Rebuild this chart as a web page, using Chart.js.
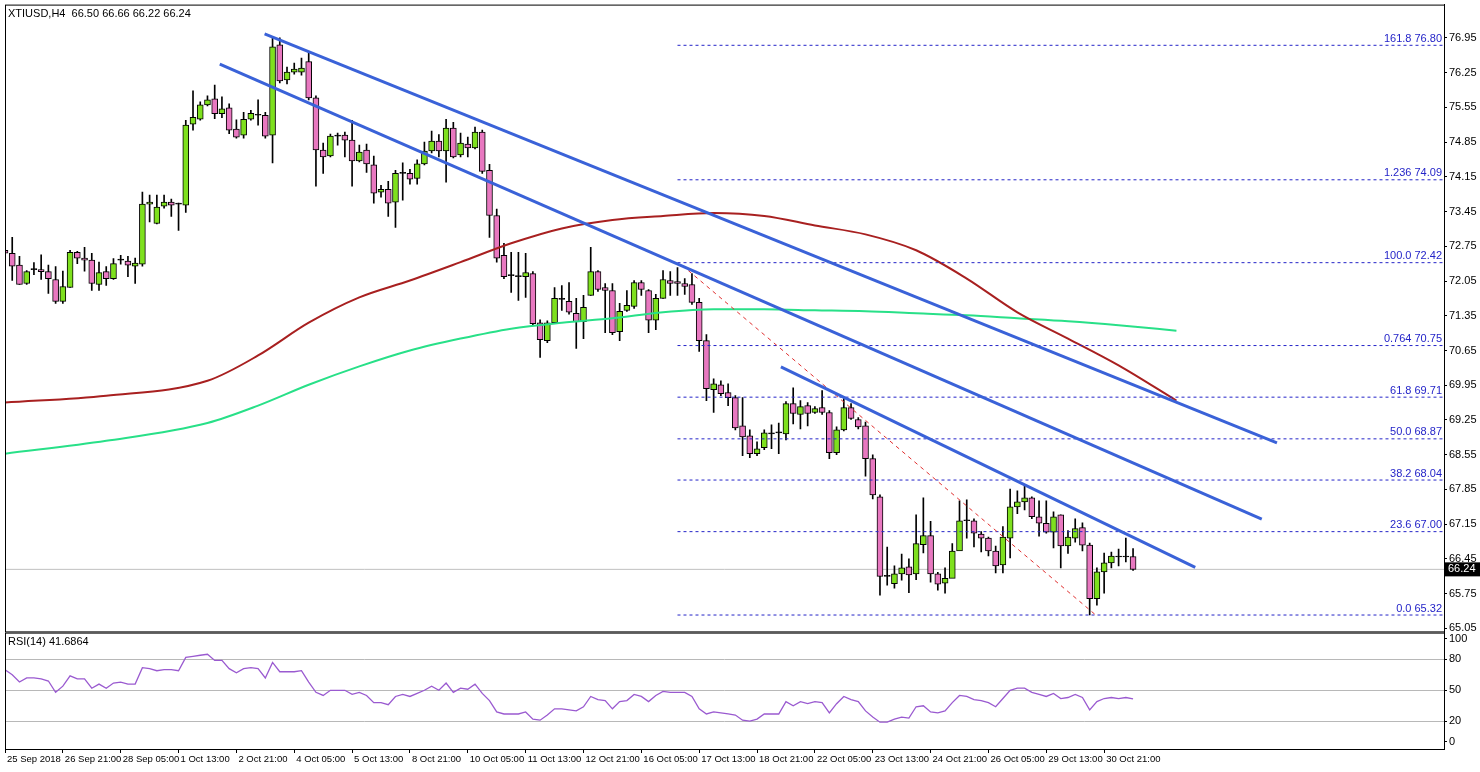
<!DOCTYPE html>
<html><head><meta charset="utf-8">
<script src="https://cdn.jsdelivr.net/npm/chart.js@4.4.1/dist/chart.umd.min.js"></script>
<style>
html,body{margin:0;padding:0;background:#fff;overflow:hidden}
#wrap{position:relative;width:1480px;height:772px;overflow:hidden}
canvas{position:absolute;left:0}
</style></head><body>
<div id="wrap">
<canvas id="price" width="1480" height="644" style="top:-4px"></canvas>
<canvas id="rsi" width="1480" height="148" style="top:624px"></canvas>
</div>
<script>
// ---- data ----
const opens = [72.67,72.61,72.37,72.00,72.28,72.28,72.24,72.08,71.64,71.92,
72.63,72.51,72.47,71.98,72.24,72.10,72.47,72.45,72.35,72.39,
73.60,73.21,73.56,73.64,73.60,73.58,75.21,75.31,75.60,75.72,
75.42,75.54,75.11,74.99,75.31,75.39,75.39,74.99,76.81,76.10,
76.26,76.26,76.47,75.74,74.69,74.57,74.97,74.99,74.89,74.47,
74.69,74.39,73.84,73.90,73.64,74.22,74.22,74.12,74.41,74.67,
74.87,74.67,75.13,74.59,74.81,74.73,75.05,74.28,73.37,72.57,
72.16,72.14,72.14,72.20,71.21,70.85,71.21,71.68,71.64,71.40,
71.23,71.76,72.24,71.92,71.86,71.03,71.46,71.54,72.02,71.86,
71.26,71.70,72.06,72.04,72.00,71.98,71.62,70.85,69.86,69.96,
69.80,69.70,69.13,68.93,68.57,68.69,68.97,68.99,68.97,69.58,
69.36,69.54,69.40,69.50,69.40,68.59,69.05,69.50,69.26,69.13,
68.47,67.70,66.10,65.95,66.15,66.29,66.15,66.74,66.92,66.15,
65.96,66.06,66.61,67.22,67.22,66.95,66.87,66.61,66.33,66.87,
67.50,67.60,67.68,67.30,67.17,66.99,67.34,66.71,66.87,67.08,
66.73,65.65,66.19,66.37,66.49,66.49,66.50];
const highs = [72.87,72.93,72.55,72.26,72.42,72.58,72.37,72.34,72.25,72.67,
72.65,72.73,72.61,72.43,72.34,72.50,72.57,72.55,72.51,73.84,
73.78,73.78,73.78,73.70,73.62,75.29,75.88,75.66,75.78,76.00,
75.76,75.62,75.30,75.45,75.49,75.70,75.45,76.95,76.95,76.36,
76.44,76.54,76.67,75.78,74.83,75.01,75.03,75.05,75.29,74.79,
74.81,74.57,73.98,74.06,74.28,74.43,74.30,74.49,74.85,75.07,
75.00,75.31,75.25,75.03,74.95,75.15,75.09,74.40,73.50,72.81,
72.63,72.63,72.61,72.24,71.27,71.25,71.92,71.96,72.02,71.70,
71.76,72.73,72.26,72.00,72.00,71.60,71.86,72.06,72.06,71.88,
71.78,72.26,72.24,72.32,72.10,72.20,71.70,70.97,70.08,70.04,
69.98,69.74,69.70,69.05,68.81,69.05,69.15,69.19,69.62,69.90,
69.64,69.60,69.52,69.84,69.44,69.11,69.70,69.58,69.30,69.21,
68.55,67.74,66.69,66.31,66.55,66.45,67.34,67.68,67.21,66.18,
66.27,66.76,67.62,67.64,67.26,67.00,66.89,66.71,67.10,67.86,
67.82,67.94,67.70,67.62,67.62,67.40,67.34,67.02,67.26,67.18,
66.77,66.27,66.57,66.59,66.65,66.87,66.66];
const lows = [72.41,72.06,71.98,71.98,72.18,72.08,71.80,71.60,71.60,71.92,
72.40,72.25,71.86,71.86,71.96,72.08,72.39,72.14,72.00,72.35,
73.24,73.20,73.52,73.35,73.07,73.43,75.09,75.29,75.58,75.32,
75.34,75.02,74.93,74.93,75.29,75.19,74.93,74.43,76.04,76.02,
76.22,76.20,75.70,73.96,74.22,74.55,74.79,74.55,73.96,74.45,
74.24,73.62,73.74,73.35,73.13,73.68,74.00,74.00,74.39,74.63,
74.55,74.04,74.53,74.55,74.55,74.71,74.22,72.93,72.43,72.10,
71.82,71.66,71.72,71.15,70.51,70.81,71.19,71.46,71.38,70.69,
70.89,71.76,71.84,71.01,70.97,70.85,71.44,71.50,71.76,71.01,
71.07,71.70,71.76,71.76,71.78,71.58,70.63,69.64,69.40,69.74,
69.54,69.05,68.53,68.49,68.53,68.65,68.67,68.57,68.85,69.17,
69.07,69.13,69.38,69.36,68.47,68.55,69.03,69.26,69.07,68.12,
67.66,65.72,65.92,65.86,66.02,65.77,66.03,66.57,65.98,65.82,
65.76,66.19,66.65,66.87,66.69,66.59,66.51,66.17,66.17,66.47,
67.36,67.44,67.26,66.91,66.97,66.67,66.27,66.56,66.79,66.61,
65.32,65.52,65.76,66.27,66.31,66.39,66.22];
const closes = [72.61,72.35,71.98,72.24,72.28,72.24,72.10,71.64,71.94,72.63,
72.51,72.47,72.00,72.22,72.10,72.40,72.47,72.37,72.41,73.60,
73.64,73.54,73.64,73.58,73.60,75.19,75.35,75.60,75.70,75.42,
75.52,75.09,74.95,75.31,75.43,75.39,74.97,76.77,76.08,76.26,
76.32,76.34,75.74,74.69,74.55,74.97,74.97,74.89,74.47,74.65,
74.41,73.82,73.90,73.62,74.22,74.22,74.10,74.41,74.67,74.87,
74.67,75.13,74.55,74.83,74.73,75.05,74.26,73.37,72.51,72.14,
72.16,72.14,72.22,71.19,70.87,71.21,71.70,71.68,71.42,71.23,
71.52,72.24,71.88,71.86,71.01,71.44,71.56,72.02,71.88,71.26,
71.70,72.08,72.00,72.00,71.94,71.62,70.85,69.88,69.98,69.78,
69.70,69.09,68.91,68.57,68.67,68.99,68.97,68.99,69.58,69.38,
69.52,69.38,69.48,69.40,68.59,69.05,69.50,69.28,69.11,68.47,
67.74,66.10,66.10,66.15,66.27,66.13,66.76,66.92,66.15,65.94,
66.06,66.61,67.22,67.22,66.97,66.87,66.61,66.31,66.89,67.50,
67.60,67.68,67.30,67.17,66.99,67.30,66.71,66.89,67.06,66.73,
65.65,66.19,66.37,66.51,66.49,66.49,66.24];
const rsiValues = [70,65,58,62,62,61,59,48,54,64,61,61,52,56,52,57,58,56,56,72,71,69,70,70,69,82,83,84,85,79,79,71,67,71,72,71,62,77,68,68,68,69,58,48,
45,50,50,50,46,48,45,38,38,36,44,46,44,47,50,54,50,57,48,52,51,56,47,40,29,27,27,27,29,22,21,26,32,32,31,30,34,
44,41,40,32,39,40,46,44,39,45,49,48,48,48,44,32,27,29,28,27,26,21,20,22,27,27,27,39,35,39,37,39,38,28,37,44,41,39,30,
24,19,19,22,24,23,34,35,29,28,30,38,45,44,41,40,38,34,42,50,52,52,48,46,44,47,42,43,46,43,31,39,42,43,42,43,41.69];
const maIndex = [0,14,28,35,42,49,56,63,70,77,84,91,98,105,112,119,126,133,140,147,154,162];
const redMA = [69.60,69.74,70.04,70.55,71.21,71.72,72.06,72.43,72.81,73.11,73.28,73.36,73.42,73.36,73.17,72.99,72.67,72.10,71.42,70.89,70.35,69.64];
const greenMA = [68.57,68.83,69.19,69.54,69.96,70.33,70.65,70.89,71.09,71.21,71.30,71.42,71.48,71.48,71.46,71.44,71.40,71.36,71.30,71.24,71.16,71.05];
const fibLevels = [76.80,74.09,72.42,70.75,69.71,68.87,68.04,67.00,65.32];
const fibNames = ['161.8','1.236','100.0','0.764','61.8','50.0','38.2','23.6','0.0'];
const fibStart = 93;
const channelUpper = [[35.9,77.03],[175.9,68.79]];
const channelLower = [[29.7,76.42],[173.8,67.25]];
const trendShort = [[107.3,70.32],[164.6,66.28]];
const redDashed = [[94.5,72.26],[151,65.30]];
const timeLabels = ['25 Sep 2018','26 Sep 21:00','28 Sep 05:00','1 Oct 13:00','2 Oct 21:00','4 Oct 05:00','5 Oct 13:00','8 Oct 21:00','10 Oct 05:00','11 Oct 13:00','12 Oct 21:00','16 Oct 05:00','17 Oct 13:00','18 Oct 21:00','22 Oct 05:00','23 Oct 13:00','24 Oct 21:00','26 Oct 05:00','29 Oct 13:00','30 Oct 21:00'];
const priceTicks = [65.05,65.75,66.45,67.15,67.85,68.55,69.25,69.95,70.65,71.35,72.05,72.75,73.45,74.15,74.85,75.55,76.25,76.95];
const rsiTicks = [0,20,50,80,100];
const lastPrice = 66.24;
const header = 'XTIUSD,H4  66.50 66.66 66.22 66.24';
const rsiTitle = 'RSI(14) 41.6864';
const XMAX = 199;

Chart.defaults.font.family = '"Liberation Sans", Arial, sans-serif';
Chart.defaults.font.size = 11;
Chart.defaults.color = '#000';

const GREEN = '#7ee01e', PINK = '#e878c0';
const bodyData = opens.map((o,i)=>({x:i,y:[o,closes[i]]}));
const wickData = highs.map((h,i)=>({x:i,y:[lows[i],h]}));
const bodyColors = opens.map((o,i)=> closes[i]>o ? GREEN : (closes[i]<o ? PINK : '#000'));
const seg = (p)=>p.map(a=>({x:a[0],y:a[1]}));
const line = (data,color,width,dash,order,smooth)=>({type:'line',data,borderColor:color,borderWidth:width,borderDash:dash||[],pointRadius:0,fill:false,tension:smooth?0.4:0,cubicInterpolationMode:smooth?'monotone':'default',order:order||1});

const datasets = [
  {type:'bar',data:wickData,backgroundColor:'#000',barThickness:1,grouped:false,order:5},
  {type:'bar',data:bodyData,backgroundColor:bodyColors,borderColor:'#000',borderWidth:1,borderSkipped:false,barThickness:6,minBarLength:1,grouped:false,order:4},
  line([{x:0,y:lastPrice},{x:XMAX,y:lastPrice}],'#c0c0c0',1,[],6),
  line(maIndex.map((x,i)=>({x,y:redMA[i]})),'#a82020',2,[],3,true),
  line(maIndex.map((x,i)=>({x,y:greenMA[i]})),'#28e088',2,[],3,true),
  line(seg(redDashed),'#e03030',1,[4,4],2),
  line(seg(channelUpper),'#3a62d8',3,[],1),
  line(seg(channelLower),'#3a62d8',3,[],1),
  line(seg(trendShort),'#3a62d8',3,[],1),
];
fibLevels.forEach(v=>datasets.push(line([{x:fibStart,y:v},{x:XMAX,y:v}],'#2424c8',1,[3,3],2)));

const framePlugin = {
  id:'frame',
  afterDraw(chart){
    const {ctx,chartArea:a} = chart;
    ctx.save();
    ctx.strokeStyle='#000';ctx.lineWidth=1;
    ctx.strokeRect(a.left+0.5,a.top+0.5,a.right-a.left,a.bottom-a.top);
    const o = chart.options.plugins.frame;
    ctx.fillStyle='#000';ctx.font='11px "Liberation Sans", Arial';ctx.textBaseline='top';ctx.textAlign='left';
    ctx.fillText(o.title,a.left+3,a.top+4);
    if(o.fib){
      const y = chart.scales.y;
      ctx.fillStyle='#2424c8';ctx.textAlign='right';ctx.textBaseline='bottom';
      fibLevels.forEach((v,i)=>ctx.fillText(fibNames[i]+' '+v.toFixed(2),a.right-2,y.getPixelForValue(v)-1));
      const py = y.getPixelForValue(lastPrice);
      ctx.fillStyle='#000';ctx.fillRect(a.right+1,py-7,35,14);
      ctx.fillStyle='#fff';ctx.textAlign='left';ctx.textBaseline='middle';
      ctx.fillText(lastPrice.toFixed(2),a.right+4,py);
    } else {
      const x = chart.scales.x;
      ctx.fillStyle='#000';ctx.textAlign='left';ctx.textBaseline='top';ctx.font='9.5px "Liberation Sans", Arial';
      timeLabels.forEach((t,i)=>ctx.fillText(t,x.getPixelForValue(i*8)+2,a.bottom+6));
    }
    ctx.restore();
  }
};

new Chart(document.getElementById('price'),{
  data:{datasets},
  options:{
    responsive:false,animation:false,devicePixelRatio:1,
    layout:{padding:{left:5,top:5,right:0,bottom:2}},
    plugins:{legend:{display:false},tooltip:{enabled:false},frame:{title:header,fib:true}},
    scales:{
      x:{type:'linear',min:0,max:XMAX,offset:false,display:false},
      y:{position:'right',min:64.99,max:77.62,
        afterBuildTicks:s=>{s.ticks=priceTicks.map(v=>({value:v}));},
        afterFit:s=>{s.width=36;},
        ticks:{callback:v=>v.toFixed(2),padding:2,autoSkip:false},
        grid:{drawOnChartArea:false,tickLength:3,color:'#000'},
        border:{color:'#000'}}
    }
  },
  plugins:[framePlugin]
});

new Chart(document.getElementById('rsi'),{
  type:'line',
  data:{datasets:[line(rsiValues.map((v,i)=>({x:i,y:v})),'#9a5ad0',1.3,[],1)]},
  options:{
    responsive:false,animation:false,devicePixelRatio:1,
    layout:{padding:{left:5,top:1,right:0,bottom:0}},
    plugins:{legend:{display:false},tooltip:{enabled:false},frame:{title:rsiTitle,fib:false}},
    scales:{
      x:{type:'linear',min:0,max:XMAX,offset:false,
        afterBuildTicks:s=>{s.ticks=timeLabels.map((t,i)=>({value:i*8}));},
        afterFit:s=>{s.height=23;},
        ticks:{maxRotation:0,autoSkip:false,padding:1,callback:()=>''},
        grid:{drawOnChartArea:false,tickLength:4,color:'#000'},border:{color:'#000'}},
      y:{position:'right',min:-7,max:106,
        afterBuildTicks:s=>{s.ticks=rsiTicks.map(v=>({value:v}));},
        afterFit:s=>{s.width=36;},
        ticks:{padding:2,autoSkip:false},
        grid:{color:c=>[20,50,80].includes(c.tick&&c.tick.value)?'#b8b8b8':'rgba(0,0,0,0)',tickColor:'#000',tickLength:3,borderDash:[3,3]},
        border:{color:'#000',dash:[]}}
    }
  },
  plugins:[framePlugin]
});
</script>
</body></html>
